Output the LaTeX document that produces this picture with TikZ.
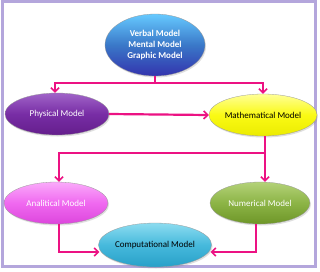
\documentclass[tikz,border=0pt]{standalone}
\usepackage{fontspec}
\setmainfont{Carlito}
\usetikzlibrary{shapes.geometric,arrows.meta,shadows}
\definecolor{arr}{HTML}{EC1283}
\definecolor{frame}{HTML}{B4A6DC}
\tikzset{
  ell/.style={ellipse, inner sep=0pt, minimum width=#1, font=\fontsize{9}{11}\selectfont,
    draw=white!60!black, line width=0.3pt, drop shadow={opacity=0.25, shadow xshift=1pt, shadow yshift=-1.5pt}},
  link/.style={draw=arr, line width=2.2pt},
  flow/.style={link, -{Straight Barb[length=4pt,width=8pt,line width=1.6pt]}},
}
\begin{document}
\begin{tikzpicture}[x=1pt,y=-1pt]
\useasboundingbox (0,0) rectangle (320,271);
\fill[white] (0,0) rectangle (320,271);
\draw[frame, line width=2.5pt] (2.5,1.5) rectangle (315.5,266.5);
\node[ell=100pt, minimum height=62pt, top color=blue!35!cyan!60!white, bottom color=blue!60!black!80, middle color={rgb,255:red,58;green,120;blue,200}, text=white, font=\fontsize{9}{11}\selectfont\bfseries, align=center] (vm) at (155,45) {Verbal Model\\Mental Model\\Graphic Model};
\node[ell=104pt, minimum height=42pt, top color={rgb,255:red,160;green,100;blue,200}, bottom color={rgb,255:red,100;green,30;blue,140}, middle color={rgb,255:red,120;green,45;blue,165}, text=white] (pm) at (57,114) {Physical Model};
\node[ell=100pt, minimum height=42pt, top color={rgb,255:red,255;green,255;blue,150}, bottom color={rgb,255:red,235;green,235;blue,0}, middle color={rgb,255:red,250;green,250;blue,20}, text=black] (mm) at (263,115) {Mathematical Model};
\node[ell=104pt, minimum height=42pt, top color={rgb,255:red,250;green,170;blue,250}, bottom color={rgb,255:red,220;green,70;blue,220}, middle color={rgb,255:red,240;green,105;blue,240}, text=white] (am) at (56,203) {Analitical Model};
\node[ell=100pt, minimum height=42pt, top color={rgb,255:red,180;green,210;blue,120}, bottom color={rgb,255:red,110;green,150;blue,40}, middle color={rgb,255:red,140;green,180;blue,70}, text=white] (nm) at (260,203) {Numerical Model};
\node[ell=100pt, minimum height=44pt, top color={rgb,255:red,140;green,220;blue,240}, bottom color={rgb,255:red,40;green,160;blue,200}, middle color={rgb,255:red,70;green,185;blue,220}, text=black] (cm) at (155,245) {Computational Model};
\coordinate (j1) at (155,83);
\coordinate (j2) at (265,153);
\draw[link] (vm.south) -- (j1);
\draw[flow] (j1) -| ([xshift=-2pt]pm.north);
\draw[flow] (j1) -| (mm.north);
\draw[flow] (pm.east) -- (mm.west);
\draw[link] ([xshift=2pt]mm.south) -- (j2);
\draw[flow] (j2) -| ([xshift=3pt]am.north);
\draw[flow] (j2) -- (j2 |- nm.north);
\draw[flow] ([xshift=3pt]am.south) |- ([shift={(1,7)}]cm.west);
\draw[flow] ([xshift=-4pt]nm.south) |- ([shift={(-1,7)}]cm.east);
\end{tikzpicture}
\end{document}
